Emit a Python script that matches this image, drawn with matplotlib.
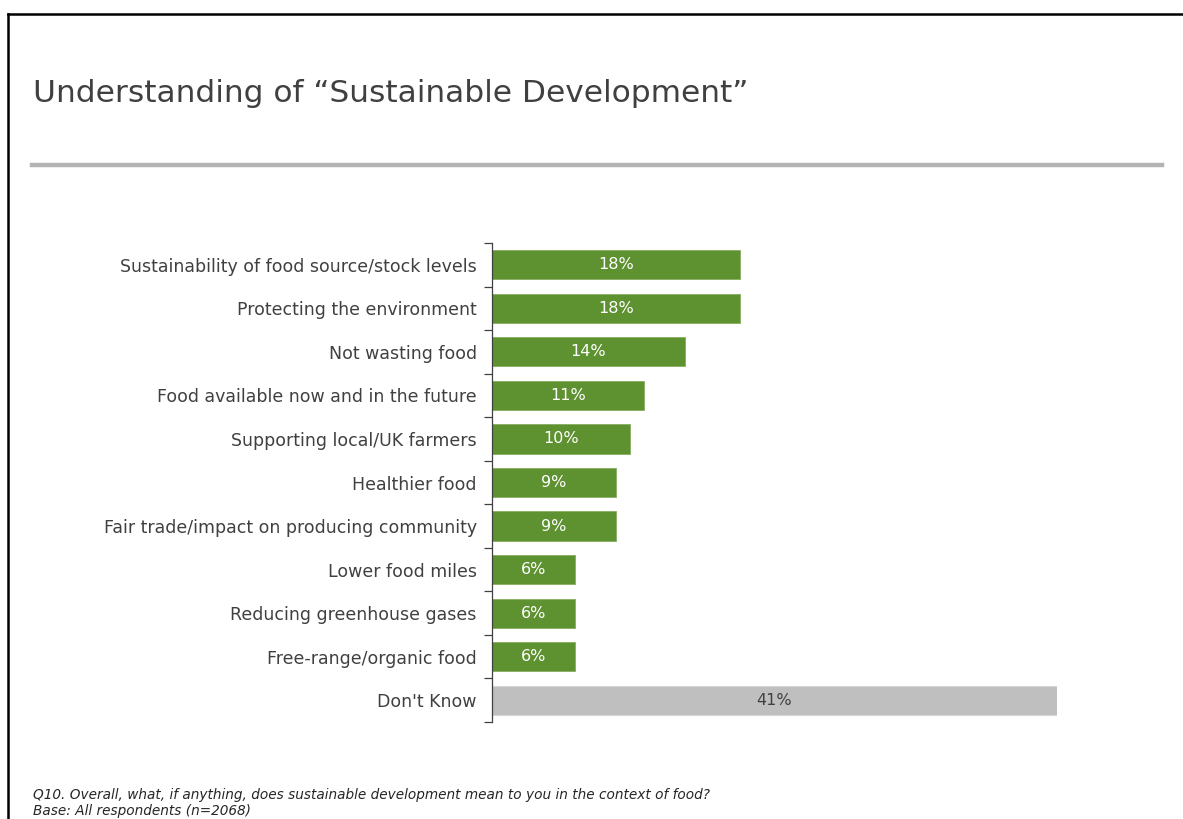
import matplotlib
matplotlib.use("Agg")
import matplotlib.pyplot as plt
from matplotlib.lines import Line2D
import numpy as np

# Survey responses
categories = [
    "Sustainability of food source/stock levels",
    "Protecting the environment",
    "Not wasting food",
    "Food available now and in the future",
    "Supporting local/UK farmers",
    "Healthier food",
    "Fair trade/impact on producing community",
    "Lower food miles",
    "Reducing greenhouse gases",
    "Free-range/organic food",
    "Don't Know",
]
values = [18, 18, 14, 11, 10, 9, 9, 6, 6, 6, 41]
value_labels = ["18%", "18%", "14%", "11%", "10%", "9%", "9%", "6%", "6%", "6%", "41%"]

title = "Understanding of \u201cSustainable Development\u201d"
question = "Q10. Overall, what, if anything, does sustainable development mean to you in the context of food?"
base = "Base: All respondents (n=2068)"

GREEN = "#5E9130"
GREEN_EDGE = "#86AD5F"
GREY = "#BFBFBF"
GREY_EDGE = "#D4D4D4"
TEXT = "#404040"

W, H = 1183, 819
fig = plt.figure(figsize=(W / 100, H / 100), dpi=100)
fig.patch.set_facecolor("white")

def fx(px):
    return px / W

def fy(py):
    return 1 - py / H

# Slide frame: top and left border
fig.add_artist(Line2D([fx(8), fx(1183)], [fy(14), fy(14)], color="black", lw=1.8))
fig.add_artist(Line2D([fx(8), fx(8)], [fy(14), fy(819)], color="black", lw=1.8))

# Title and rule
fig.text(fx(33), fy(102), title, fontsize=22.5, color=TEXT, ha="left", va="baseline",
         family="DejaVu Sans")
fig.add_artist(Line2D([fx(32), fx(1162)], [fy(164.5), fy(164.5)], color="#B4B4B4", lw=3.2))

# Bar chart
ax = fig.add_axes([fx(492), fy(722), fx(1057) - fx(492), fy(243) - fy(722)])
y = np.arange(len(categories))
colors = [GREEN] * (len(categories) - 1) + [GREY]
edges = [GREEN_EDGE] * (len(categories) - 1) + [GREY_EDGE]
bars = ax.barh(y, values, height=0.67, color=colors, edgecolor=edges, linewidth=0.6)

for i, (b, lab) in enumerate(zip(bars, value_labels)):
    cx = b.get_x() + b.get_width() / 2
    ax.text(cx, b.get_y() + b.get_height() / 2, lab, ha="center", va="center",
            fontsize=11.5, color="white" if i < len(categories) - 1 else TEXT)

ax.set_xlim(0, 41)
ax.set_ylim(len(categories) - 0.5, -0.5)
ax.set_yticks(y)
ax.set_yticklabels(categories, fontsize=12.5, color=TEXT)
ax.set_yticks(np.arange(-0.5, len(categories)), minor=True)
ax.tick_params(axis="y", which="major", length=0, pad=11)
ax.tick_params(axis="y", which="minor", length=6, width=0.9, color="#404040")
ax.set_xticks([])
for side in ["top", "right", "bottom"]:
    ax.spines[side].set_visible(False)
ax.spines["left"].set_color("#404040")
ax.spines["left"].set_linewidth(0.9)

# Footnotes
fig.text(fx(33), fy(795), question, fontsize=9.8, style="italic", color="#262626",
         ha="left", va="center")
fig.text(fx(33), fy(811), base, fontsize=9.8, style="italic", color="#262626",
         ha="left", va="center")

fig.savefig("out.png", dpi=100, facecolor="white")
